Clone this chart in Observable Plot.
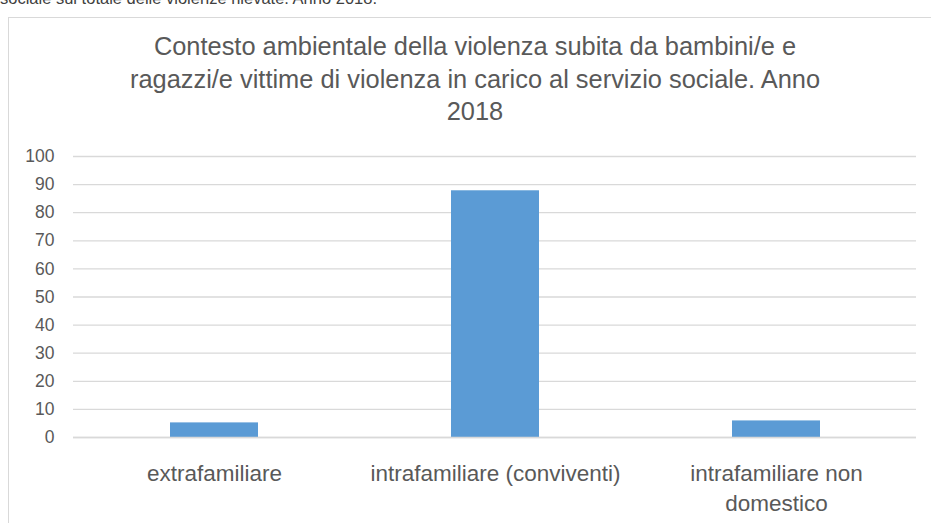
<!DOCTYPE html>
<html>
<head>
<meta charset="utf-8">
<script src="https://cdn.jsdelivr.net/npm/d3@7"></script>
<script src="https://cdn.jsdelivr.net/npm/@observablehq/plot@0.6"></script>
<style>
  html, body { margin: 0; padding: 0; background: #fff; overflow: hidden; width: 931px; height: 523px; }
  #page { position: relative; width: 931px; height: 523px; overflow: hidden; font-family: "Liberation Sans", Arial, sans-serif; }
  #top { position: absolute; left: 0; top: -11px; font-size: 16.5px; color: #404040; white-space: nowrap; }
  #frame { position: absolute; left: 8px; top: 17px; width: 960px; height: 560px; border: 1.5px solid #d9d9d9; box-sizing: border-box; }
  #title { position: absolute; left: 25px; width: 900px; top: 30px; text-align: center; font-size: 25.4px; line-height: 32.5px; color: #595959; }
  #chart { position: absolute; left: 0; top: 0; }
</style>
</head>
<body>
<div id="page">
  <div id="top">sociale sul totale delle violenze rilevate. Anno 2018.</div>
  <div id="frame"></div>
  <div id="title">Contesto ambientale della violenza subita da bambini/e e<br>ragazzi/e vittime di violenza in carico al servizio sociale. Anno<br>2018</div>
  <div id="chart"></div>
</div>
<script>
const categories = ["extrafamiliare", "intrafamiliare (conviventi)", "intrafamiliare non domestico"];
const tickLabels = ["extrafamiliare", "intrafamiliare (conviventi)", "intrafamiliare non\ndomestico"];
const values = [5.2, 87.8, 5.9];
const yTicks = [0, 10, 20, 30, 40, 50, 60, 70, 80, 90, 100];

const data = categories.map((c, i) => ({category: c, value: values[i]}));
const labelOf = new Map(categories.map((c, i) => [c, tickLabels[i]]));

const chart = Plot.plot({
  width: 931,
  height: 523,
  marginLeft: 73,
  marginRight: 15,
  marginTop: 156,
  marginBottom: 86,
  style: {background: "transparent", fontFamily: "'Liberation Sans', Arial, sans-serif", color: "#595959", overflow: "visible"},
  x: {domain: categories, paddingInner: 0.687, paddingOuter: 0.3435, label: null},
  y: {domain: [0, 100], label: null},
  marks: [
    Plot.gridY(yTicks, {stroke: "#d9d9d9", strokeOpacity: 1, strokeWidth: 1.3}),
    Plot.barY(data, {x: "category", y: "value", fill: "#5b9bd5"}),
    Plot.ruleY([0], {stroke: "#d9d9d9", strokeWidth: 1.5}),
    Plot.axisY(yTicks, {tickSize: 0, tickPadding: 19, fontSize: 17.5, fill: "#595959", label: null}),
    Plot.axisX({tickSize: 0, tickPadding: 22, fontSize: 22.5, fill: "#595959", lineHeight: 1.33, tickFormat: d => labelOf.get(d), label: null})
  ]
});
document.getElementById("chart").appendChild(chart);
</script>
</body>
</html>
